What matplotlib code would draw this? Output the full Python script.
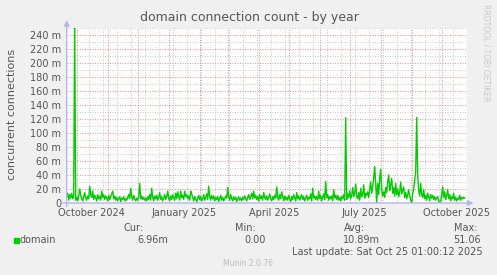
import datetime as dt
import numpy as np
import matplotlib
matplotlib.use('Agg')
import matplotlib.pyplot as plt
import matplotlib.dates as mdates

# daily values (milli connections), starting Sep 21 2024
start = dt.date(2024, 9, 21)
values = [
    9, 14, 4, 12, 7, 14, 6, 10, 255, 4,
    8, 3, 10, 20, 12, 6, 3, 9, 15, 7,
    4, 10, 6, 24, 12, 8, 17, 5, 11, 7,
    3, 12, 6, 9, 4, 17, 8, 12, 5, 10,
    7, 3, 11, 5, 9, 13, 17, 6, 10, 4,
    8, 3, 6, 9, 2, 7, 5, 9, 3, 6,
    4, 8, 12, 6, 21, 9, 4, 11, 6, 3,
    7, 4, 9, 28, 6, 10, 5, 8, 4, 7,
    3, 9, 5, 12, 4, 21, 8, 3, 10, 6,
    11, 4, 8, 15, 5, 9, 3, 7, 12, 5,
    9, 17, 6, 3, 10, 5, 12, 7, 4, 14,
    6, 16, 9, 4, 17, 8, 11, 5, 17, 9,
    12, 6, 10, 4, 17, 13, 8, 3, 9, 5,
    2, 7, 11, 5, 9, 3, 6, 12, 4, 8,
    13, 5, 24, 9, 4, 11, 6, 10, 3, 8,
    5, 9, 2, 7, 11, 4, 8, 3, 6, 10,
    7, 22, 9, 4, 12, 6, 3, 9, 5, 8,
    2, 6, 9, 4, 7, 3, 8, 5, 10, 6,
    3, 8, 12, 5, 9, 14, 6, 17, 7, 11,
    5, 9, 3, 12, 6, 10, 4, 15, 8, 5,
    10, 4, 8, 13, 6, 3, 9, 5, 11, 7,
    23, 8, 4, 12, 6, 16, 9, 3, 10, 5,
    8, 4, 11, 6, 2, 9, 5, 12, 7, 3,
    15, 6, 10, 4, 8, 12, 5, 9, 3, 7,
    11, 4, 8, 6, 13, 3, 21, 7, 10, 5,
    9, 4, 17, 6, 11, 3, 8, 13, 5, 31,
    8, 12, 4, 9, 6, 10, 3, 19, 7, 11,
    5, 11, 4, 8, 3, 9, 6, 12, 4, 122,
    5, 13, 8, 17, 6, 11, 22, 9, 14, 27,
    10, 6, 15, 4, 21, 9, 12, 26, 7, 14,
    11, 16, 8, 20, 30, 14, 22, 36, 52, 28,
    0, 28, 12, 35, 48, 20, 10, 16, 8, 22,
    15, 30, 40, 18, 26, 35, 14, 22, 10, 28,
    12, 20, 9, 16, 30, 13, 18, 23, 8, 15,
    6, 12, 19, 10, 4, 0, 14, 20, 33, 45,
    122, 40, 18, 10, 28, 12, 8, 19, 6, 11,
    4, 14, 9, 3, 12, 7, 11, 5, 9, 4,
    7, 9, 3, 0, 2, 12, 23, 8, 16, 5,
    11, 19, 6, 12, 3, 9, 6, 14, 4, 8,
    3, 7, 5, 11, 4, 8, 6, 8, 7,
]
dates = [start + dt.timedelta(days=i) for i in range(len(values))]

month_lines = [dt.date(2024, m, 1) for m in range(10, 13)] + [dt.date(2025, m, 1) for m in range(1, 11)]
week_lines = [dt.date(2024, 10, 13) + dt.timedelta(days=14 * k) for k in range(28)]
label_dates = [dt.date(2024, 10, 16), dt.date(2025, 1, 16), dt.date(2025, 4, 16),
               dt.date(2025, 7, 16), dt.date(2025, 10, 16)]
label_text = ['October 2024', 'January 2025', 'April 2025', 'July 2025', 'October 2025']

W, H = 497, 275
bg = '#F0F0F0'
txt = '#555555'
fig = plt.figure(figsize=(W / 100, H / 100), dpi=100, facecolor=bg)
ax = fig.add_axes([66.7 / W, 1 - 203 / H, 400 / W, 175 / H])
ax.set_facecolor('white')

x0 = start
x1 = start + dt.timedelta(days=400)
ax.set_xlim(x0, x1)
ax.set_ylim(0, 250)

# grid
minor_c = '#CFCFCF'
major_c = '#E59A9A'
dots = (0, (1, 1.4))
for d in week_lines:
    if d not in month_lines:
        ax.axvline(d, color=minor_c, lw=0.75, ls=dots, zorder=1)
for v in range(10, 260, 20):
    ax.axhline(v, color=minor_c, lw=0.75, ls=dots, zorder=1)
for d in month_lines:
    ax.axvline(d, color=major_c, lw=0.75, ls=dots, zorder=2)
for v in range(20, 250, 20):
    ax.axhline(v, color=major_c, lw=0.75, ls=dots, zorder=2)

ax.plot(dates, values, color='#00CC00', lw=1.0, zorder=3)

for s in ax.spines.values():
    s.set_visible(False)

ax.set_yticks(range(0, 250, 20))
ax.set_yticklabels(['0' if v == 0 else '%d m' % v for v in range(0, 250, 20)])
ax.set_xticks(label_dates)
ax.set_xticklabels(label_text)
ax.tick_params(length=0, labelsize=7, colors=txt, pad=4)
ax.tick_params(axis='x', pad=3.5)

# axis arrows
acol = '#B4B4EE'
ax.annotate('', xy=(1.017, 0), xytext=(-0.01, 0), xycoords='axes fraction',
            arrowprops=dict(arrowstyle='-|>', color=acol, lw=1.0, mutation_scale=8,
                            shrinkA=0, shrinkB=0), zorder=4)
ax.annotate('', xy=(0, 1.045), xytext=(0, -0.02), xycoords='axes fraction',
            arrowprops=dict(arrowstyle='-|>', color=acol, lw=1.0, mutation_scale=8,
                            shrinkA=0, shrinkB=0), zorder=4)

fig.text(249 / W, 1 - 18 / H, 'domain connection count - by year', ha='center', va='center',
         fontsize=9, color=txt)
fig.text(12 / W, 1 - 114 / H, 'concurrent connections', rotation=90, ha='center', va='center',
         fontsize=8, color=txt)
fig.text(486 / W, 1 - 53 / H, 'RRDTOOL / TOBI OETIKER', rotation=270, ha='center', va='center',
         fontsize=5.5, color='#C8C8C8')

# legend
fig.patches.append(plt.Rectangle((14 / W, 1 - 243 / H), 5 / W, 5 / H, transform=fig.transFigure,
                                 color='#00CC00', figure=fig))
fig.text(20 / W, 1 - 240 / H, 'domain', fontsize=7, color=txt, va='center')
for lx, hdr in [(124, 'Cur:'), (235, 'Min:'), (344, 'Avg:'), (454, 'Max:')]:
    fig.text(lx / W, 1 - 228 / H, hdr, fontsize=7, color=txt, va='center')
for lx, val in [(137, '6.96m'), (244, '0.00'), (343, '10.89m'), (453, '51.06')]:
    fig.text(lx / W, 1 - 240 / H, val, fontsize=7, color=txt, va='center')
fig.text(483 / W, 1 - 252 / H, 'Last update: Sat Oct 25 01:00:12 2025', fontsize=7, color=txt,
         va='center', ha='right')
fig.text(248 / W, 1 - 264 / H, 'Munin 2.0.76', fontsize=5.5, color='#BBBBBB', va='center', ha='center')

fig.savefig('out.png', dpi=100, facecolor=bg)
